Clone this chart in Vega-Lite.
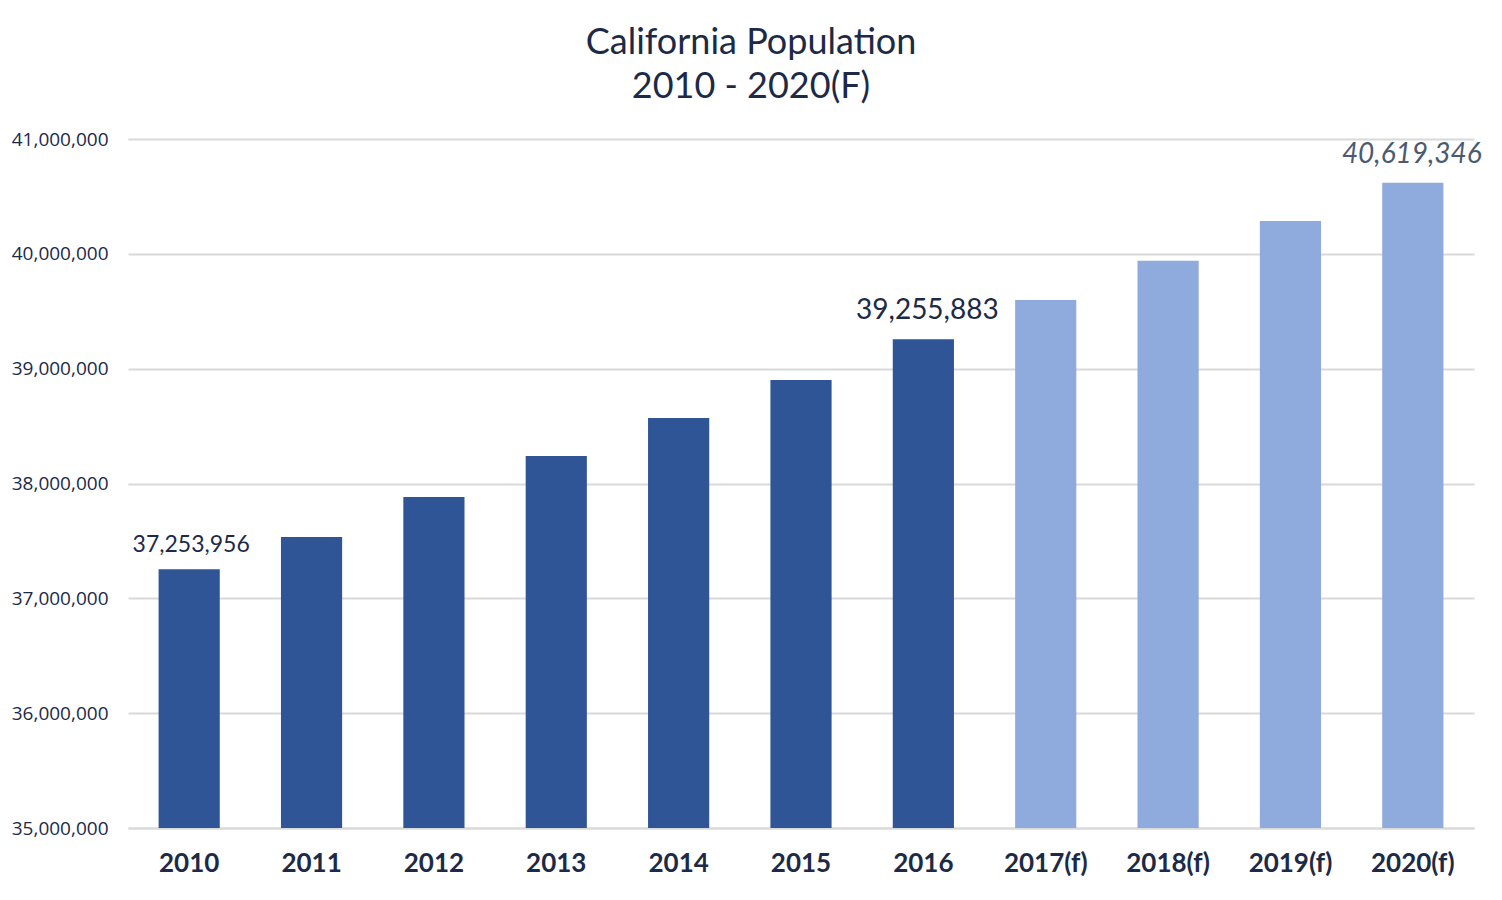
{
  "$schema": "https://vega.github.io/schema/vega-lite/v6.json",
  "width": 1346,
  "height": 689,
  "autosize": {"type": "none"},
  "padding": {"left": 128, "top": 139, "right": 28, "bottom": 72},
  "background": "#ffffff",
  "config": {"view": {"stroke": null}},
  "title": {
    "text": ["California Population", "2010 - 2020(F)"],
    "font": "Lato",
    "fontSize": 36,
    "fontWeight": "normal",
    "color": "#1c2a48",
    "lineHeight": 44,
    "anchor": "middle",
    "dx": -50,
    "offset": 24
  },
  "data": {
    "values": [
      {"year": "2010", "population": 37253956, "type": "Actual", "label": "37,253,956"},
      {"year": "2011", "population": 37535000, "type": "Actual", "label": ""},
      {"year": "2012", "population": 37883000, "type": "Actual", "label": ""},
      {"year": "2013", "population": 38240000, "type": "Actual", "label": ""},
      {"year": "2014", "population": 38571000, "type": "Actual", "label": ""},
      {"year": "2015", "population": 38902000, "type": "Actual", "label": ""},
      {"year": "2016", "population": 39255883, "type": "Actual", "label": "39,255,883"},
      {"year": "2017(f)", "population": 39599000, "type": "Forecast", "label": ""},
      {"year": "2018(f)", "population": 39939000, "type": "Forecast", "label": ""},
      {"year": "2019(f)", "population": 40287000, "type": "Forecast", "label": ""},
      {"year": "2020(f)", "population": 40619346, "type": "Forecast", "label": "40,619,346"}
    ]
  },
  "encoding": {
    "x": {
      "field": "year",
      "type": "ordinal",
      "sort": null,
      "scale": {"paddingInner": 0.5, "paddingOuter": 0.25},
      "axis": {
        "title": null,
        "labelAngle": 0,
        "labelFont": "Lato",
        "labelFontSize": 26,
        "labelFontWeight": "bold",
        "labelColor": "#1c2a48",
        "labelPadding": 22,
        "ticks": false,
        "domain": true,
        "domainColor": "#d9d9d9",
        "domainWidth": 2,
        "grid": false
      }
    },
    "y": {
      "field": "population",
      "type": "quantitative",
      "scale": {"domain": [35000000, 41000000], "zero": false, "nice": false},
      "axis": {
        "title": null,
        "values": [35000000, 36000000, 37000000, 38000000, 39000000, 40000000, 41000000],
        "format": ",d",
        "labelFont": "Open Sans",
        "labelFontSize": 19,
        "labelColor": "#1c2a48",
        "labelPadding": 20,
        "ticks": false,
        "domain": false,
        "grid": true,
        "gridColor": "#d9d9d9",
        "gridWidth": 2
      }
    }
  },
  "layer": [
    {
      "mark": {"type": "bar"},
      "encoding": {
        "y2": {"datum": 35000000},
        "color": {
          "field": "type",
          "type": "nominal",
          "scale": {"domain": ["Actual", "Forecast"], "range": ["#2f5597", "#8faadc"]},
          "legend": null
        }
      }
    },
    {
      "transform": [{"filter": "datum.year == '2010'"}],
      "mark": {"type": "text", "font": "Lato", "fontSize": 23, "color": "#1c2a48", "baseline": "bottom", "dy": -12, "dx": 2},
      "encoding": {"text": {"field": "label"}}
    },
    {
      "transform": [{"filter": "datum.year == '2016'"}],
      "mark": {"type": "text", "font": "Lato", "fontSize": 28, "color": "#1c2a48", "baseline": "bottom", "dy": -14, "dx": 4},
      "encoding": {"text": {"field": "label"}}
    },
    {
      "transform": [{"filter": "datum.year == '2020(f)'"}],
      "mark": {"type": "text", "font": "Lato", "fontSize": 28, "fontStyle": "italic", "color": "#4b5a70", "baseline": "bottom", "dy": -14, "dx": -1},
      "encoding": {"text": {"field": "label"}}
    }
  ]
}
